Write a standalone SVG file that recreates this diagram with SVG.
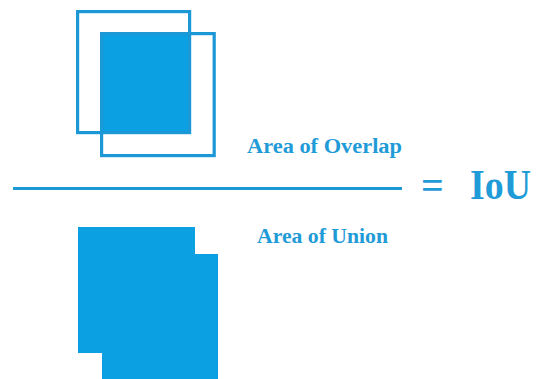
<svg xmlns="http://www.w3.org/2000/svg" width="538" height="379" viewBox="0 0 538 379">
<style>
.box{fill:none;stroke:#1b98d5;stroke-width:3.2}
.fill{fill:#0ba0e2}
.lbl{font-family:"Liberation Serif",serif;font-weight:bold;fill:#1f9bd7}
</style>
<rect width="538" height="379" fill="#ffffff"/>
<g id="overlap">
<rect class="fill" x="100" y="32" width="91" height="102"/>
<rect class="box" x="77.6" y="11.6" width="112" height="121"/>
<rect class="box" x="101.6" y="33.6" width="112.6" height="122"/>
</g>
<g id="union">
<polygon class="fill" points="78,227 195,227 195,254 218,254 218,379 102,379 102,353 78,353"/>
</g>
<g id="connectors">
<line x1="13" y1="188.5" x2="402" y2="188.5" stroke="#1b98d5" stroke-width="3.2"/>
</g>
<g id="labels">
<text class="lbl" x="247" y="153" font-size="20" textLength="155" lengthAdjust="spacingAndGlyphs">Area of Overlap</text>
<text class="lbl" x="257" y="243" font-size="21" textLength="131" lengthAdjust="spacingAndGlyphs">Area of Union</text>
<text class="lbl" x="432.5" y="199" font-size="40" text-anchor="middle">=</text>
<text class="lbl" x="470" y="199" font-size="42" textLength="61" lengthAdjust="spacingAndGlyphs">IoU</text>
</g>
</svg>
